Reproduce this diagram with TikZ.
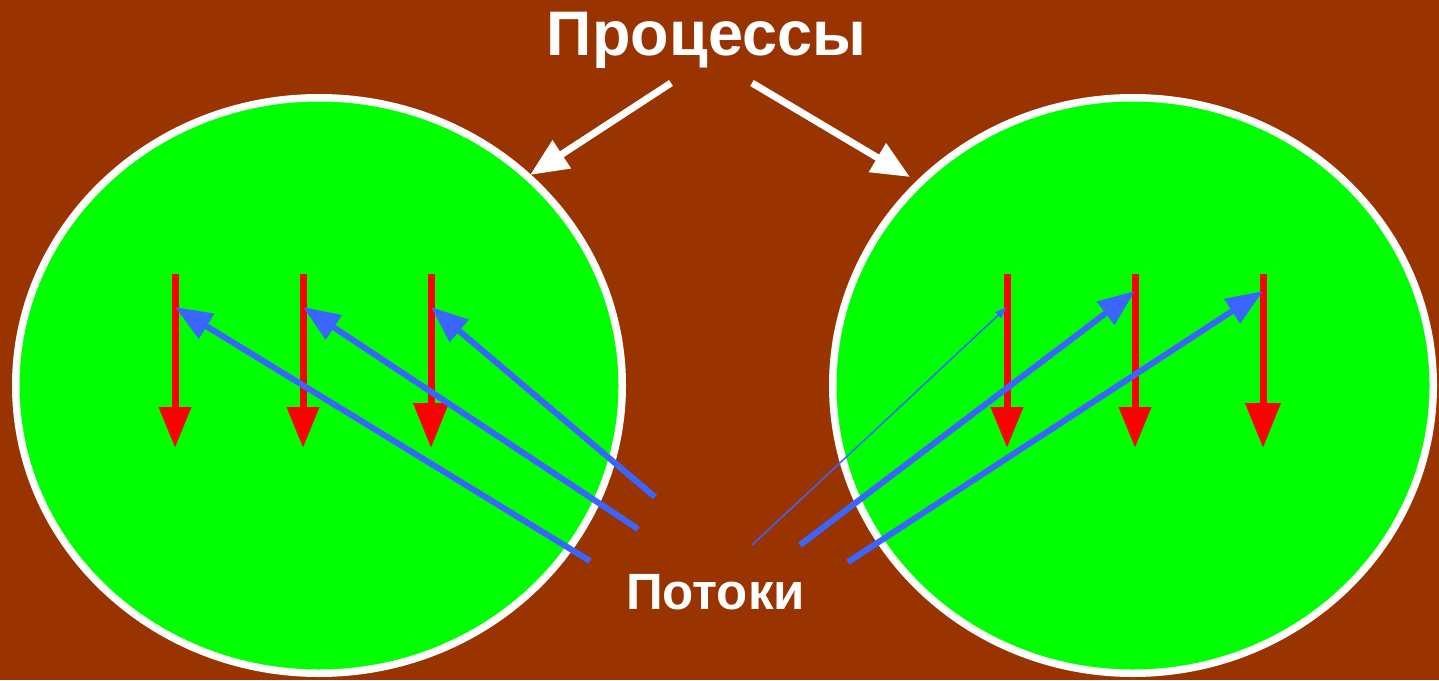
\documentclass[tikz,border=0pt]{standalone}
\usepackage{fontspec}
\setmainfont{Liberation Sans}
\usetikzlibrary{arrows.meta}
\definecolor{bgbrown}{HTML}{993300}
\definecolor{cellgreen}{HTML}{00FF00}
\definecolor{thred}{HTML}{FF0000}
\definecolor{flowblue}{HTML}{3A66FF}
\tikzset{
  proc/.style={draw=white, line width=7.5pt, fill=cellgreen},
  redarrow/.style={draw=thred, line width=7pt, -{Triangle[length=41pt,width=31pt]}},
  redarrowbig/.style={draw=thred, line width=7pt, -{Triangle[length=45pt,width=34pt]}},
  bluearrow/.style={draw=flowblue, line width=6pt, -{Triangle[length=37pt,width=28pt]}},
  bluethin/.style={draw=flowblue, line width=1.5pt, -{Triangle[length=12pt,width=8pt]}},
  whitearrow/.style={draw=white, line width=7pt, -{Triangle[length=38pt,width=32pt]}},
  label/.style={text=white, font=\bfseries, inner sep=0pt, anchor=base}
}
\begin{document}
\begin{tikzpicture}[x=1pt,y=-1pt]
\fill[bgbrown] (0,0) rectangle (1439,680);
\useasboundingbox (0,0) rectangle (1439,680);
% processes
\draw[proc] (319,385.5) ellipse [x radius=303.25, y radius=287.75];
\draw[proc] (1133,385.5) ellipse [x radius=300.25, y radius=287.75];
% labels
\node[label, font=\bfseries\fontsize{63}{70}\selectfont] (proc) at (706.5,55) {Процессы};
\node[label, font=\bfseries\fontsize{51}{58}\selectfont] (thr) at (715.5,609) {Потоки};
% white arrows
\coordinate (wl0) at (671,83); \coordinate (wl1) at (530,175);
\coordinate (wr0) at (752,83); \coordinate (wr1) at (910,177);
\draw[whitearrow] (wl0) -- (wl1);
\draw[whitearrow] (wr0) -- (wr1);
% red thread arrows
\foreach \n/\x in {a/175,b/303,c/431,d/1007,e/1135,f/1263}{
  \coordinate (r\n0) at (\x,274);
  \coordinate (r\n1) at (\x,448);
}
\draw[redarrow] (ra0) -- (ra1);
\draw[redarrow] (rb0) -- (rb1);
\draw[redarrowbig] (rc0) -- (rc1);
\draw[redarrow] (rd0) -- (rd1);
\draw[redarrow] (re0) -- (re1);
\draw[redarrowbig] (rf0) -- (rf1);
% blue arrows
\coordinate (ba0) at (590,561); \coordinate (ba1) at (175,307);
\coordinate (bb0) at (638,529); \coordinate (bb1) at (303,307);
\coordinate (bc0) at (655,497); \coordinate (bc1) at (431,307);
\coordinate (bd0) at (752,545); \coordinate (bd1) at (1007,307);
\coordinate (be0) at (800,545); \coordinate (be1) at (1135,291);
\coordinate (bf0) at (848,562); \coordinate (bf1) at (1263,291);
\draw[bluearrow] (ba0) -- (ba1);
\draw[bluearrow] (bb0) -- (bb1);
\draw[bluearrow] (bc0) -- (bc1);
\draw[bluethin] (bd0) -- (bd1);
\draw[bluearrow] (be0) -- (be1);
\draw[bluearrow] (bf0) -- (bf1);
\end{tikzpicture}
\end{document}
